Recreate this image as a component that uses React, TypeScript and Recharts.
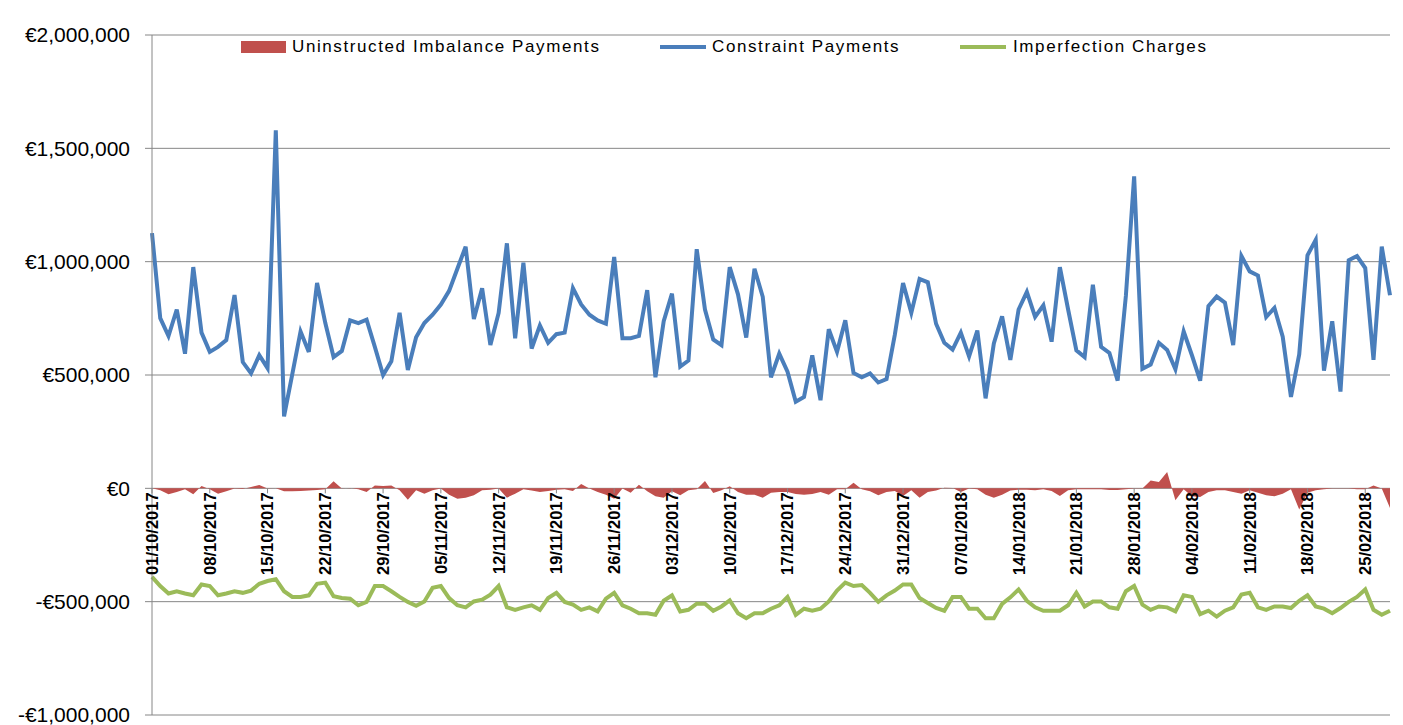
import { ComposedChart, Area, Line, XAxis, YAxis, CartesianGrid } from 'recharts';

// daily values, thousands of euro, 01/10/2017 .. 28/02/2018
const imbalancePayments = [
  0, -9, -26, -16, -4, -26, 10, -4, -24, -13, -1, -3, 6, 15, -1, 0, -13, -13, -12, -10,
  -7, -4, 31, -1, 1, -4, -16, 13, 10, 13, -9, -50, -9, -24, -9, -1, -28, -46, -41, -31,
  -9, -6, -1, -41, -24, -4, -10, -16, -12, -6, -4, -12, 19, -1, -16, -28, -46, -1, -19, 16,
  -13, -35, -41, -13, -31, -9, -4, 32, -21, -9, 9, -16, -28, -28, -41, -20, -16, -16, -25, -28,
  -25, -16, -28, -4, -4, 25, -4, -13, -31, -16, -12, -34, -9, -41, -16, -10, 3, 1, -16, -1,
  -4, -28, -41, -28, -10, -6, -6, -9, -4, -12, -34, -9, -4, -4, -4, -4, -7, -7, -4, -1,
  -1, 35, 28, 72, -53, -4, -35, -38, -16, -9, -9, -16, -24, -9, -19, -31, -35, -24, -4, -93,
  -19, -9, -4, -1, -1, -1, -4, -4, 13, -1, -87,
];

const constraintPayments = [
  1126, 751, 672, 789, 594, 976, 687, 602, 624, 654, 853, 557, 507, 587, 530, 1579, 317, 504, 692, 602,
  906, 729, 579, 606, 741, 729, 744, 624, 500, 561, 774, 522, 666, 729, 766, 811, 871, 969, 1066, 747,
  883, 632, 774, 1081, 662, 995, 617, 719, 642, 680, 687, 883, 811, 766, 741, 726, 1021, 662, 662, 672,
  874, 490, 737, 859, 537, 564, 1055, 789, 657, 632, 976, 856, 665, 969, 845, 490, 594, 515, 382, 403,
  587, 389, 702, 602, 741, 509, 490, 507, 467, 482, 677, 906, 774, 924, 909, 726, 642, 612, 687, 582,
  696, 397, 639, 759, 567, 789, 867, 756, 807, 647, 976, 789, 609, 579, 898, 624, 597, 475, 850, 1376,
  527, 546, 642, 610, 525, 692, 587, 475, 804, 846, 819, 632, 1025, 957, 939, 756, 796, 669, 403, 591,
  1028, 1096, 519, 737, 427, 1006, 1025, 972, 567, 1066, 852,
];

const imperfectionCharges = [
  -391, -431, -464, -454, -464, -472, -424, -431, -472, -464, -454, -461, -451, -421, -409, -401, -454, -479, -479, -472,
  -421, -416, -476, -484, -487, -516, -501, -431, -431, -454, -479, -501, -518, -499, -439, -431, -484, -516, -525, -499,
  -491, -469, -431, -525, -536, -525, -516, -536, -484, -461, -501, -513, -536, -525, -543, -487, -461, -516, -531, -551,
  -551, -558, -496, -472, -543, -536, -509, -509, -540, -521, -494, -551, -573, -551, -551, -531, -516, -479, -558, -531,
  -540, -531, -499, -451, -416, -431, -427, -461, -501, -472, -451, -424, -424, -484, -506, -528, -540, -479, -479, -531,
  -531, -573, -573, -510, -481, -446, -496, -525, -540, -540, -540, -516, -461, -521, -499, -499, -525, -531, -454, -431,
  -513, -536, -521, -525, -543, -472, -479, -555, -540, -566, -540, -525, -469, -461, -525, -536, -521, -521, -528, -496,
  -472, -521, -531, -551, -528, -501, -479, -446, -536, -558, -540,
];

const yTicks = [-1000, -500, 0, 500, 1000, 1500, 2000];

const RED = '#C0504D';
const BLUE = '#4A7EBB';
const GREEN = '#9BBB59';
const GRID = '#868686';

const W = 1395;
const H = 717;
const X_AXIS_H = 4;
const MARGIN = { top: 27, right: 13, bottom: 10 - X_AXIS_H, left: 0 };
const PLOT_H = H - MARGIN.top - MARGIN.bottom - X_AXIS_H;
const ZERO_Y = MARGIN.top + PLOT_H * (2000 / 3000);

function dayLabel(i: number) {
  const d = new Date(Date.UTC(2017, 9, 1 + i));
  const dd = String(d.getUTCDate()).padStart(2, '0');
  const mm = String(d.getUTCMonth() + 1).padStart(2, '0');
  return `${dd}/${mm}/${d.getUTCFullYear()}`;
}

const data = constraintPayments.map((v, i) => ({
  date: dayLabel(i),
  imbalance: imbalancePayments[i],
  constraint: v,
  imperfection: imperfectionCharges[i],
}));

const euro = (v: number) => {
  if (v === 0) return '€0';
  return (v < 0 ? '-€' : '€') + Math.abs(v * 1000).toLocaleString('en-US');
};

// date labels hang under the zero line, like the Excel original
const DateTick = (props: any) => {
  const { x, payload } = props;
  return (
    <g transform={`translate(${x},${ZERO_Y})`}>
      <line x1={0} x2={0} y1={0} y2={5} stroke={GRID} />
      <text
        transform="rotate(-90)"
        x={-4}
        y={0}
        dy="0.36em"
        textAnchor="end"
        fontSize={16.5}
        fontWeight="bold"
        fontFamily="'Liberation Sans', Arial, sans-serif"
        fill="#000"
      >
        {payload.value}
      </text>
    </g>
  );
};

const legendText = {
  position: 'absolute' as const,
  top: 29,
  fontSize: 17,
  lineHeight: '20px',
  letterSpacing: '1.6px',
  color: '#000',
  whiteSpace: 'nowrap' as const,
};

export default function App() {
  return (
    <div style={{ marginLeft: -1, borderLeft: `1px solid ${GRID}`, height: H + 10 }}>
      <div style={{ position: 'relative', width: W, height: H, fontFamily: "'Liberation Sans', Arial, sans-serif" }}>
        <ComposedChart width={W} height={H} data={data} margin={MARGIN}>
          <CartesianGrid horizontal vertical={false} stroke={GRID} strokeWidth={1} />
          <XAxis
            dataKey="date"
            height={X_AXIS_H}
            interval={6}
            axisLine={false}
            tickLine={false}
            tick={DateTick}
          />
          <YAxis
            width={144}
            domain={[-1000, 2000]}
            ticks={yTicks}
            interval={0}
            tickFormatter={euro}
            tickSize={7}
            tickMargin={15}
            axisLine={{ stroke: GRID }}
            tickLine={{ stroke: GRID }}
            tick={{ fill: '#000', fontSize: 21, fontFamily: "'Liberation Sans', Arial, sans-serif" }}
          />
          <Area
            type="linear"
            dataKey="imbalance"
            fill={RED}
            fillOpacity={1}
            stroke="none"
            isAnimationActive={false}
          />
          <Line
            type="linear"
            dataKey="constraint"
            stroke={BLUE}
            strokeWidth={4}
            dot={false}
            isAnimationActive={false}
          />
          <Line
            type="linear"
            dataKey="imperfection"
            stroke={GREEN}
            strokeWidth={4}
            dot={false}
            isAnimationActive={false}
          />
        </ComposedChart>

        <div style={{ position: 'absolute', left: 233, top: 33, width: 45, height: 12, background: RED }} />
        <div style={{ ...legendText, left: 284 }}>Uninstructed Imbalance Payments</div>
        <div style={{ position: 'absolute', left: 652, top: 37, width: 46, height: 4, background: BLUE }} />
        <div style={{ ...legendText, left: 704 }}>Constraint Payments</div>
        <div style={{ position: 'absolute', left: 952, top: 37, width: 46, height: 4, background: GREEN }} />
        <div style={{ ...legendText, left: 1005 }}>Imperfection Charges</div>
      </div>
    </div>
  );
}
